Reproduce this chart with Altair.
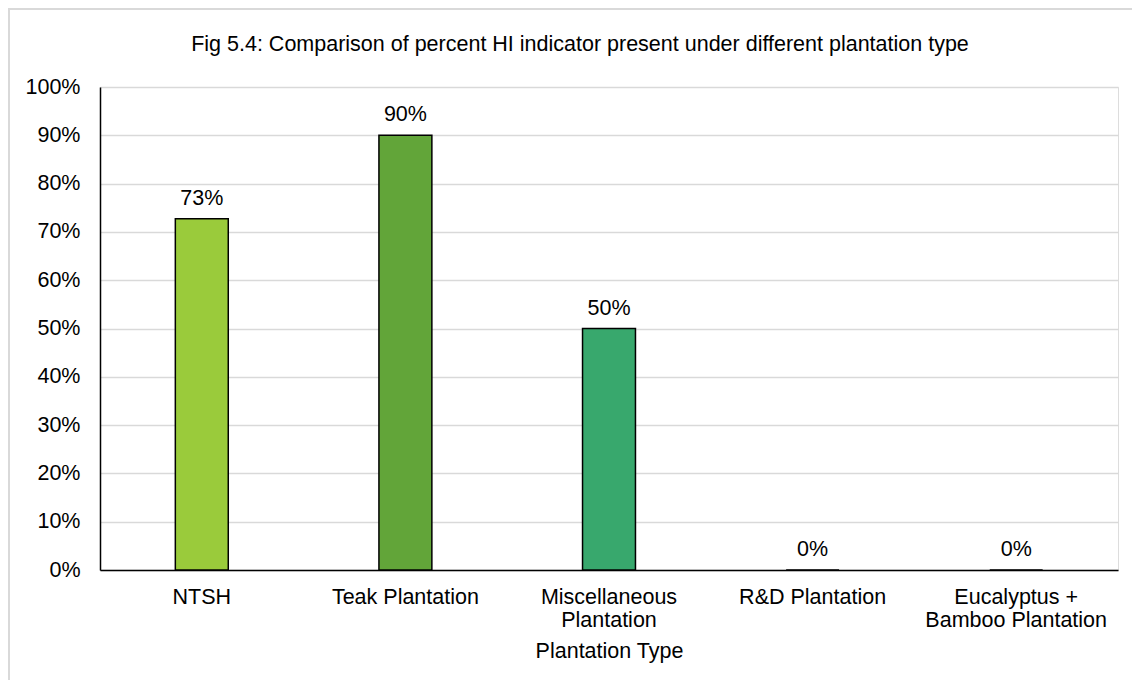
import altair as alt
import pandas as pd

categories = ["NTSH", "Teak Plantation", "Miscellaneous\nPlantation", "R&D Plantation", "Eucalyptus +\nBamboo Plantation"]
values = [0.727, 0.90, 0.50, 0.0, 0.0]
bar_colors = ["#9ACB3B", "#62A539", "#38A86D", "#2E8B57", "#2E8B57"]
y_ticks = [0, 0.1, 0.2, 0.3, 0.4, 0.5, 0.6, 0.7, 0.8, 0.9, 1.0]
title_text = ["Fig 5.4: Comparison of percent HI indicator present under different plantation type"]

df = pd.DataFrame({"cat": categories, "val": values})
FONT = "Liberation Sans"
FS = 21.5

x_enc = alt.X("cat:N", sort=categories,
              scale=alt.Scale(paddingInner=0.74, paddingOuter=0.37),
              axis=alt.Axis(title="Plantation Type", labelAngle=0,
                            labelExpr="split(datum.label, '\\n')",
                            labelFont=FONT, labelFontSize=FS, labelColor="black",
                            labelLineHeight=23, labelBaseline="top", labelPadding=16,
                            labelLimit=0,
                            ticks=False, domainColor="black", domainWidth=1.5,
                            titleFont=FONT, titleFontSize=FS, titleFontWeight="normal",
                            titleColor="black", titlePadding=10, grid=False))
y_enc = alt.Y("val:Q", scale=alt.Scale(domain=[0, 1], nice=False),
              axis=alt.Axis(title=None, format=".0%", values=y_ticks,
                            labelFont=FONT, labelFontSize=FS, labelColor="black",
                            labelPadding=20, ticks=False, domainColor="black",
                            domainWidth=1.5, gridColor="#d9d9d9", gridWidth=1.3))

bars = alt.Chart(df).mark_bar(stroke="black", strokeWidth=1.5).encode(
    x=x_enc, y=y_enc,
    color=alt.Color("cat:N", sort=categories,
                    scale=alt.Scale(domain=categories, range=bar_colors), legend=None),
)

labels = alt.Chart(df).mark_text(baseline="alphabetic", dy=-14, font=FONT,
                                 fontSize=FS, color="black").encode(
    x=alt.X("cat:N", sort=categories), y="val:Q",
    text=alt.Text("val:Q", format=".0%"),
)

border = alt.Chart(alt.Data(values=[{}])).mark_rect(
    fill=None, stroke="#d9d9d9", strokeWidth=2).encode(
    x=alt.value(-91), x2=alt.value(1090), y=alt.value(-78), y2=alt.value(640))

title = alt.Chart(alt.Data(values=[{"t": title_text[0]}])).mark_text(
    font=FONT, fontSize=FS, color="black", align="center", baseline="alphabetic").encode(
    x=alt.value(480), y=alt.value(-36), text="t:N")

chart = alt.layer(border, bars, labels, title).properties(
    width=1018, height=483,
    autosize=alt.AutoSizeParams(type="none"),
    padding={"left": 92, "top": 79, "right": 14, "bottom": 110},
).configure_view(stroke=None).configure(background="white")

chart.save("out.html", embed_options={"renderer": "svg", "actions": False})
